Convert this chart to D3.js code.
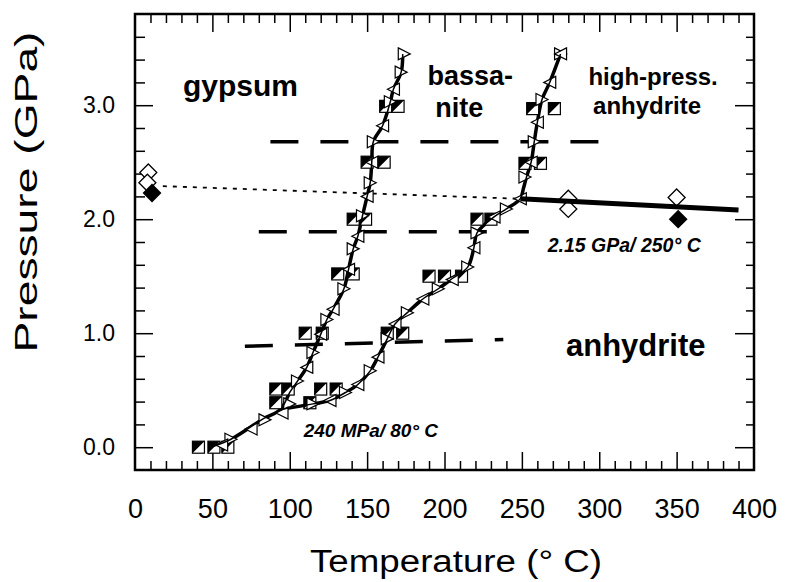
<!DOCTYPE html>
<html>
<head>
<meta charset="utf-8">
<script src="https://cdn.jsdelivr.net/npm/d3@7"></script>
<style>
  body { margin: 0; background: #fff; }
  svg { display: block; font-family: "Liberation Sans", Arial, Helvetica, sans-serif; }
</style>
</head>
<body>
<script>
// axis ticks
var xTicks = [0, 50, 100, 150, 200, 250, 300, 350, 400];
var yTicks = [0, 1, 2, 3];
var yTickLabels = ["0.0", "1.0", "2.0", "3.0"];

// phase boundaries (temperature °C, pressure GPa)
var gypBasCurve = [[49,0],[62,0.07],[75,0.18],[83,0.25],[94,0.33],[100,0.48],[105,0.58],[111,0.70],[115,0.83],[120,0.99],[124,1.12],[128,1.21],[135,1.39],[138,1.56],[141,1.74],[144,1.85],[147,2.03],[150,2.2],[152,2.32],[153,2.5],[154,2.68],[160,2.82],[165,3.03],[167,3.14],[172,3.29],[173,3.45]];
var basAnhCurve = [[94,0.33],[115,0.38],[126,0.41],[136,0.48],[144,0.55],[152,0.67],[157,0.79],[163,0.95],[168,1.08],[176,1.18],[186,1.30],[196,1.39],[205,1.48],[215,1.58],[219,1.75],[221,1.88],[232,2.02],[240,2.09],[249,2.18],[251,2.27],[253,2.37],[256,2.5],[258,2.68],[260,2.85],[263,3.05],[268,3.2],[275,3.45]];
var hpAnhCurve = [[249,2.18],[390,2.08]];
var dottedExt = [[18,2.29],[247,2.18]];

// dashed isobars
var dashUpper = [[87.5,2.68],[301,2.68]];
var dashMiddle = [[80,1.89],[254.5,1.89]];
var dashLower = [[71,0.885],[238,0.945]];

// half-filled squares
var squareT = [41,51,60, 91,99,120,130,91,113, 110,121,163,173, 131,141,190,200,211, 141,149,221,230, 150,161,252,262, 162,170,257,271];
var squareP = [0,0,0, 0.51,0.51,0.51,0.51,0.39,0.39, 1.0,1.0,1.0,1.0, 1.52,1.52,1.5,1.5,1.5, 2.0,2.0,2.0,2.0, 2.5,2.5,2.49,2.49, 2.99,2.99,2.97,2.97];

// open triangles, pointing right and left
var triRight = [[62,0.07],[84,0.24],[100,0.38],[105,0.58],[115,0.83],[124,1.12],[135,1.39],[141,1.74],[147,2.03],[152,2.32],[154,2.68],[165,3.03],[172,3.29],[174,3.45],
                [115,0.38],[136,0.48],[152,0.67],[163,0.95],[176,1.18],[196,1.39],[215,1.58],[221,1.88],[240,2.09],[252,2.37],[258,2.68],[263,3.05],[275,3.45]];
var triLeft = [[56,0.02],[75,0.16],[95,0.30],[111,0.70],[120,0.99],[128,1.21],[138,1.56],[144,1.85],[150,2.2],[153,2.5],[160,2.82],[167,3.14],
               [126,0.41],[144,0.55],[157,0.79],[168,1.08],[186,1.30],[205,1.47],[219,1.75],[232,2.02],[249,2.18],[256,2.5],[260,2.85],[268,3.2],[275,3.45]];

// diamonds
var diamondOpen = [[8.6,2.41],[8,2.32],[280,2.18],[280,2.09],[350,2.19]];
var diamondFilled = [[11,2.23],[351,2.0]];

var width = 789;
var height = 582;

var svg = d3.select("body").append("svg")
  .attr("width", width)
  .attr("height", height);

var x = d3.scaleLinear().domain([0, 400]).range([135, 754]);
var y = d3.scaleLinear().domain([-0.2, 3.8]).range([470, 14]);

var line = d3.line().x(function(d) { return x(d[0]); }).y(function(d) { return y(d[1]); });
var curve = d3.line().curve(d3.curveCatmullRom).x(function(d) { return x(d[0]); }).y(function(d) { return y(d[1]); });

// ticks
var xMinor = d3.range(10, 400, 10).filter(function(v) { return v % 50 !== 0; });
var yMinor = d3.range(0.2, 3.7, 0.2).filter(function(v) { return Math.abs(v - Math.round(v)) > 0.05; });

function drawAxis(axis, tx, ty) {
  var g = svg.append("g").attr("transform", "translate(" + tx + "," + ty + ")").call(axis);
  g.select(".domain").remove();
  g.selectAll("line").attr("stroke", "#000").attr("stroke-width", 1.5);
  return g;
}

drawAxis(d3.axisBottom(x).tickValues(xMinor).tickSize(-9).tickFormat(""), 0, 470);
drawAxis(d3.axisTop(x).tickValues(xMinor).tickSize(-9).tickFormat(""), 0, 14);
drawAxis(d3.axisTop(x).tickValues(xTicks.slice(1, -1)).tickSize(-18).tickFormat(""), 0, 14);
drawAxis(d3.axisLeft(y).tickValues(yMinor).tickSize(-10).tickFormat(""), 135, 0);
drawAxis(d3.axisRight(y).tickValues(yMinor).tickSize(-8).tickFormat(""), 754, 0);
drawAxis(d3.axisRight(y).tickValues(yTicks).tickSize(-19).tickFormat(""), 754, 0);

var xAx = drawAxis(d3.axisBottom(x).tickValues(xTicks).tickSize(-18).tickPadding(29), 0, 470);
xAx.selectAll("line").filter(function(d) { return d === 0 || d === 400; }).remove();
xAx.selectAll("text").attr("font-size", 27).attr("fill", "#000")
  .style("font-family", "'Liberation Sans', Arial, sans-serif");

var yAx = drawAxis(d3.axisLeft(y).tickValues(yTicks).tickSize(-18).tickPadding(20)
  .tickFormat(function(d, i) { return yTickLabels[i]; }), 135, 0);
yAx.selectAll("text").attr("font-size", 23).attr("fill", "#000")
  .style("font-family", "'Liberation Sans', Arial, sans-serif");

// frame
svg.append("rect")
  .attr("x", x(0)).attr("y", y(3.8))
  .attr("width", x(400) - x(0)).attr("height", y(-0.2) - y(3.8))
  .attr("fill", "none").attr("stroke", "#000").attr("stroke-width", 2.5);

// dashed isobars
[dashUpper, dashMiddle, dashLower].forEach(function(d) {
  svg.append("path").datum(d).attr("d", line)
    .attr("fill", "none").attr("stroke", "#000").attr("stroke-width", 3.5)
    .attr("stroke-dasharray", "28,22");
});

// dotted extension
svg.append("path").datum(dottedExt).attr("d", line)
  .attr("fill", "none").attr("stroke", "#000").attr("stroke-width", 1.8)
  .attr("stroke-dasharray", "4,6");

// boundary curves
[gypBasCurve, basAnhCurve].forEach(function(d) {
  svg.append("path").datum(d).attr("d", curve)
    .attr("fill", "none").attr("stroke", "#000").attr("stroke-width", 3.5);
});

// half-filled squares
var s = 6;
var sq = svg.selectAll("g.sq").data(squareT).enter().append("g")
  .attr("class", "sq")
  .attr("transform", function(d, i) { return "translate(" + x(d) + "," + y(squareP[i]) + ")"; });
sq.append("rect").attr("x", -s).attr("y", -s).attr("width", 2 * s).attr("height", 2 * s)
  .attr("fill", "#fff").attr("stroke", "#000").attr("stroke-width", 1.2);
sq.append("path").attr("d", "M" + (-s) + "," + (-s) + "L" + s + "," + (-s) + "L" + (-s) + "," + s + "Z")
  .attr("fill", "#000");

// triangles
function triPath(dir) {
  return "M" + (-dir * s) + "," + (-s) + "L" + (dir * s) + ",0L" + (-dir * s) + "," + s + "Z";
}
svg.selectAll("path.tr").data(triRight).enter().append("path")
  .attr("class", "tr")
  .attr("d", triPath(1))
  .attr("transform", function(d) { return "translate(" + x(d[0]) + "," + y(d[1]) + ")"; })
  .attr("fill", "#fff").attr("stroke", "#000").attr("stroke-width", 1.2);
svg.selectAll("path.tl").data(triLeft).enter().append("path")
  .attr("class", "tl")
  .attr("d", triPath(-1))
  .attr("transform", function(d) { return "translate(" + x(d[0]) + "," + y(d[1]) + ")"; })
  .attr("fill", "#fff").attr("stroke", "#000").attr("stroke-width", 1.2);

// thin pass of the boundary curves on top of the markers
[gypBasCurve, basAnhCurve].forEach(function(d) {
  svg.append("path").datum(d).attr("d", curve)
    .attr("fill", "none").attr("stroke", "#000").attr("stroke-width", 1.5);
});

// diamonds
var dm = 8.5;
var diamond = "M0," + (-dm) + "L" + dm + ",0L0," + dm + "L" + (-dm) + ",0Z";
svg.selectAll("path.dopen").data(diamondOpen).enter().append("path")
  .attr("class", "dopen").attr("d", diamond)
  .attr("transform", function(d) { return "translate(" + x(d[0]) + "," + y(d[1]) + ")"; })
  .attr("fill", "#fff").attr("stroke", "#000").attr("stroke-width", 1.3);
svg.selectAll("path.dfill").data(diamondFilled).enter().append("path")
  .attr("class", "dfill").attr("d", diamond)
  .attr("transform", function(d) { return "translate(" + x(d[0]) + "," + y(d[1]) + ")"; })
  .attr("fill", "#000").attr("stroke", "#000").attr("stroke-width", 1.3);

// high-pressure anhydrite boundary
svg.append("path").datum(hpAnhCurve).attr("d", line)
  .attr("fill", "none").attr("stroke", "#000").attr("stroke-width", 5);

// field labels
function label(txt, t, p, size, style) {
  return svg.append("text").attr("x", x(t)).attr("y", y(p))
    .attr("font-size", size).attr("font-weight", "bold")
    .attr("font-style", style || "normal").attr("fill", "#000").text(txt);
}
label("gypsum", 31, 3.08, 30);
label("bassa-", 189, 3.18, 27);
label("nite", 194, 2.9, 27);
label("high-press.", 293, 3.18, 24);
label("anhydrite", 296, 2.92, 24);
label("anhydrite", 278.5, 0.8, 31);
label("2.15 GPa/  250° C", 266.7, 1.71, 19.5, "italic");
label("240 MPa/ 80° C", 109, 0.09, 19, "italic");

// axis titles
svg.append("text")
  .attr("x", 456).attr("y", 572)
  .attr("text-anchor", "middle").attr("font-size", 31)
  .attr("textLength", 292).attr("lengthAdjust", "spacingAndGlyphs")
  .text("Temperature (° C)");

svg.append("text")
  .attr("transform", "translate(37,192) rotate(-90)")
  .attr("text-anchor", "middle").attr("font-size", 32)
  .attr("textLength", 321).attr("lengthAdjust", "spacingAndGlyphs")
  .text("Pressure (GPa)");
</script>
</body>
</html>
